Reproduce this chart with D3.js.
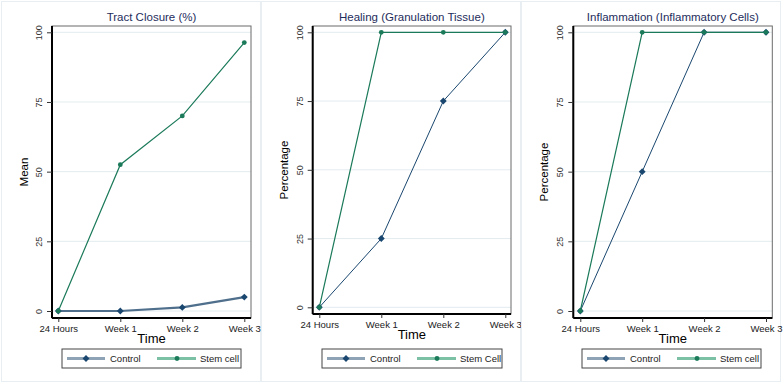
<!DOCTYPE html>
<html>
<head>
<meta charset="utf-8">
<script src="https://cdn.jsdelivr.net/npm/d3@7"></script>
<style>
  body { margin: 0; background: #fff; }
  text { font-family: "Liberation Sans", Arial, sans-serif; }
</style>
</head>
<body>
<div id="chart"></div>
<script>
// data
var timePoints = ["24 Hours", "Week 1", "Week 2", "Week 3"];
var yTicks = [0, 25, 50, 75, 100];

var tractControl = [0, 0, 1.3, 5];
var tractStem = [0, 52.5, 70, 96.3];
var healingControl = [0, 25, 75, 100];
var healingStem = [0, 100, 100, 100];
var inflamControl = [0, 50, 100, 100];
var inflamStem = [0, 100, 100, 100];

var titles = ["Tract Closure (%)", "Healing (Granulation Tissue)", "Inflammation (Inflammatory Cells)"];
var yTitles = ["Mean", "Percentage", "Percentage"];
var stemLabels = ["Stem cell", "Stem Cell", "Stem cell"];

var W = 783, H = 383;
var navy = "#1a476f", green = "#1b7a5a";

// layout for each panel
var panels = [
  { off: 0,   left: 52,    right: 251,   bottom: 318, y0: 311,   x0: 58.3,  x3: 244.3, ctrl: tractControl,   stem: tractStem,   ctrlW: 2.2 },
  { off: 260, left: 312.7, right: 511,   bottom: 314, y0: 307.3, x0: 319.3, x3: 505.3, ctrl: healingControl, stem: healingStem, ctrlW: 1 },
  { off: 520, left: 573.3, right: 772.3, bottom: 318, y0: 311,   x0: 580.3, x3: 766,   ctrl: inflamControl,  stem: inflamStem,  ctrlW: 1 }
];
var plotTop = 26, y100 = 32.3;

var diamond = d3.symbol(d3.symbolDiamond2, 30);

var svg = d3.select("#chart").append("svg")
  .attr("width", W).attr("height", H);

svg.append("rect").attr("width", W).attr("height", H).attr("fill", "#fff");

panels.forEach(function (p, i) {
  var g = svg.append("g");

  // faint panel frame
  g.append("rect")
    .attr("x", p.off + 1.5).attr("y", 1.5)
    .attr("width", 259).attr("height", 380)
    .attr("fill", "none").attr("stroke", "#e8eef2").attr("stroke-width", 1);

  var x = d3.scalePoint().domain(timePoints).range([p.x0, p.x3]);
  var y = d3.scaleLinear().domain([0, 100]).range([p.y0, y100]);

  // gridlines
  g.selectAll(".grid").data(yTicks).enter().append("line")
    .attr("x1", p.left).attr("x2", p.right)
    .attr("y1", d => y(d)).attr("y2", d => y(d))
    .attr("stroke", "#e3ecef").attr("stroke-width", 1);

  // plot region outline
  g.append("rect")
    .attr("x", p.left).attr("y", plotTop)
    .attr("width", p.right - p.left).attr("height", p.bottom - plotTop)
    .attr("fill", "none").attr("stroke", "#6b6b6b").attr("stroke-width", 1);

  // y axis
  var ya = g.append("g").attr("transform", "translate(" + p.left + ",0)")
    .call(d3.axisLeft(y).tickValues(yTicks).tickSize(5).tickFormat(d3.format("d")));
  ya.select(".domain").attr("d", "M0," + plotTop + "V" + p.bottom).attr("stroke", "#000").attr("stroke-width", 2);
  ya.selectAll(".tick line").attr("stroke", "#333");
  ya.selectAll(".tick text")
    .attr("transform", "rotate(-90)")
    .attr("x", 0).attr("y", -10).attr("dy", 0)
    .attr("text-anchor", "middle")
    .attr("font-size", 9).attr("fill", "#333");

  // x axis
  var xa = g.append("g").attr("transform", "translate(0," + p.bottom + ")")
    .call(d3.axisBottom(x).tickSize(4));
  xa.select(".domain").attr("d", "M" + p.left + ",0H" + p.right).attr("stroke", "#000").attr("stroke-width", 2);
  xa.selectAll(".tick line").attr("stroke", "#333");
  xa.selectAll(".tick text").attr("y", 7).attr("font-size", 9.5).attr("fill", "#222");

  var mid = (p.left + p.right) / 2;

  // titles
  g.append("text").attr("x", mid).attr("y", 21)
    .attr("text-anchor", "middle").attr("font-size", 11.5).attr("fill", "#1e2d5c")
    .text(titles[i]);
  g.append("text").attr("x", mid).attr("y", p.bottom + 25)
    .attr("text-anchor", "middle").attr("font-size", 13).attr("fill", "#000")
    .text("Time");
  g.append("text")
    .attr("transform", "translate(" + (p.off + 28) + "," + ((plotTop + p.bottom) / 2) + ") rotate(-90)")
    .attr("text-anchor", "middle").attr("font-size", 11.5).attr("fill", "#000")
    .text(yTitles[i]);

  var line = d3.line().x((d, j) => x(timePoints[j])).y(d => y(d));

  // control series
  g.append("path").datum(p.ctrl).attr("d", line)
    .attr("fill", "none").attr("stroke", i === 0 ? "#4f6f8c" : navy).attr("stroke-width", p.ctrlW);
  g.selectAll(".ctrlPt").data(p.ctrl).enter().append("path")
    .attr("d", diamond)
    .attr("transform", (d, j) => "translate(" + x(timePoints[j]) + "," + y(d) + ")")
    .attr("fill", navy);

  // stem cell series
  g.append("path").datum(p.stem).attr("d", line)
    .attr("fill", "none").attr("stroke", green).attr("stroke-width", 1.2);
  g.selectAll(".stemPt").data(p.stem).enter().append("circle")
    .attr("cx", (d, j) => x(timePoints[j])).attr("cy", d => y(d))
    .attr("r", 2.4).attr("fill", green);

  // legend
  var lx = p.off + 62, ly = 349, lw = (i === 1 ? 180 : 179), lh = 19;
  var lg = g.append("g");
  lg.append("rect").attr("x", lx).attr("y", ly).attr("width", lw).attr("height", lh)
    .attr("fill", "#fff").attr("stroke", "#444").attr("stroke-width", 1);
  var cy = ly + lh / 2;
  lg.append("line").attr("x1", lx + 5).attr("x2", lx + 43).attr("y1", cy).attr("y2", cy)
    .attr("stroke", "#8ea3b6").attr("stroke-width", 3);
  lg.append("path").attr("d", diamond)
    .attr("transform", "translate(" + (lx + 24) + "," + cy + ")").attr("fill", navy);
  lg.append("text").attr("x", lx + 48).attr("y", cy + 3.5)
    .attr("font-size", 9.5).attr("fill", "#222").text("Control");
  lg.append("line").attr("x1", lx + 95).attr("x2", lx + 134).attr("y1", cy).attr("y2", cy)
    .attr("stroke", "#7cc1a6").attr("stroke-width", 3);
  lg.append("circle").attr("cx", lx + 115).attr("cy", cy).attr("r", 2.4).attr("fill", green);
  lg.append("text").attr("x", lx + 138).attr("y", cy + 3.5)
    .attr("font-size", 9.5).attr("fill", "#222").text(stemLabels[i]);
});
</script>
</body>
</html>
